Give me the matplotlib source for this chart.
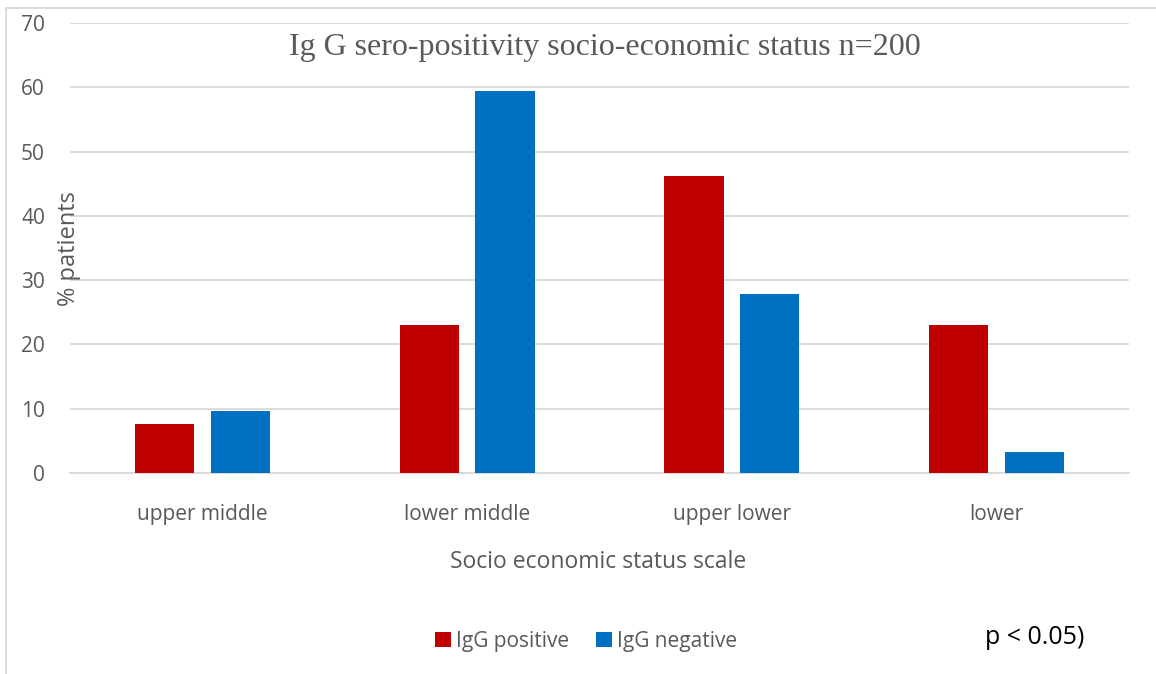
import matplotlib
matplotlib.use("Agg")
import matplotlib.pyplot as plt
import numpy as np
from matplotlib.lines import Line2D

categories = ["upper middle", "lower middle", "upper lower", "lower"]
igg_positive = [7.7, 23.1, 46.2, 23.1]
igg_negative = [9.6, 59.4, 27.8, 3.2]
y_ticks = [0, 10, 20, 30, 40, 50, 60, 70]

RED = "#C00000"
BLUE = "#0070C0"
GRAY = "#595959"
GRID = "#D9D9D9"
SANS = ["Open Sans", "DejaVu Sans"]

fig = plt.figure(figsize=(11.56, 6.74), dpi=100)
ax = fig.add_axes([70 / 1156, 201 / 674, 1059 / 1156, 450 / 674])

x = np.arange(len(categories))
w = 0.223
off = 0.143
ax.bar(x - off, igg_positive, w, color=RED, label="IgG positive", zorder=3)
ax.bar(x + off, igg_negative, w, color=BLUE, label="IgG negative", zorder=3)

ax.set_xlim(-0.5, len(categories) - 0.5)
ax.set_ylim(0, 70)
ax.set_yticks(y_ticks)
ax.set_xticks(x)
ax.set_xticklabels(categories)
ax.yaxis.grid(True, color=GRID, linewidth=1.3, zorder=0)
ax.set_axisbelow(True)
for s in ["top", "right", "left"]:
    ax.spines[s].set_visible(False)
ax.spines["bottom"].set_color(GRID)
ax.spines["bottom"].set_linewidth(1.3)
ax.tick_params(axis="both", length=0, colors=GRAY, labelsize=15)
ax.tick_params(axis="y", pad=18)
ax.tick_params(axis="x", pad=22)
for lab in ax.get_xticklabels() + ax.get_yticklabels():
    lab.set_fontfamily(SANS)

fig.text(605 / 1156, 1 - 47 / 674, "Ig G sero-positivity socio-economic status n=200",
         ha="center", va="center", fontsize=23, color=GRAY,
         family=["Liberation Serif", "DejaVu Serif"])
fig.text(69 / 1156, 1 - 249 / 674, "% patients", rotation=90, ha="center", va="center",
         fontsize=17, color=GRAY, family=SANS)
fig.text(598 / 1156, 1 - 562 / 674, "Socio economic status scale", ha="center", va="center",
         fontsize=16.5, color=GRAY, family=SANS)
fig.text(985 / 1156, 1 - 637 / 674, "p < 0.05)", ha="left", va="center",
         fontsize=18, color="black", family=SANS)

leg = fig.legend(loc="center", bbox_to_anchor=(586 / 1156, 1 - 641 / 674), ncol=2,
                 frameon=False, handlelength=0.75, handleheight=0.75,
                 handletextpad=0.25, columnspacing=1.3, prop={"family": SANS, "size": 15})
for t in leg.get_texts():
    t.set_color(GRAY)

# outer frame edges
fig.add_artist(Line2D([6 / 1156, 6 / 1156], [0, 1 - 8 / 674], color=GRID, lw=1.3,
                      transform=fig.transFigure))
fig.add_artist(Line2D([6 / 1156, 1], [1 - 8 / 674, 1 - 8 / 674], color=GRID, lw=1.3,
                      transform=fig.transFigure))

fig.savefig("out.png", dpi=100)
